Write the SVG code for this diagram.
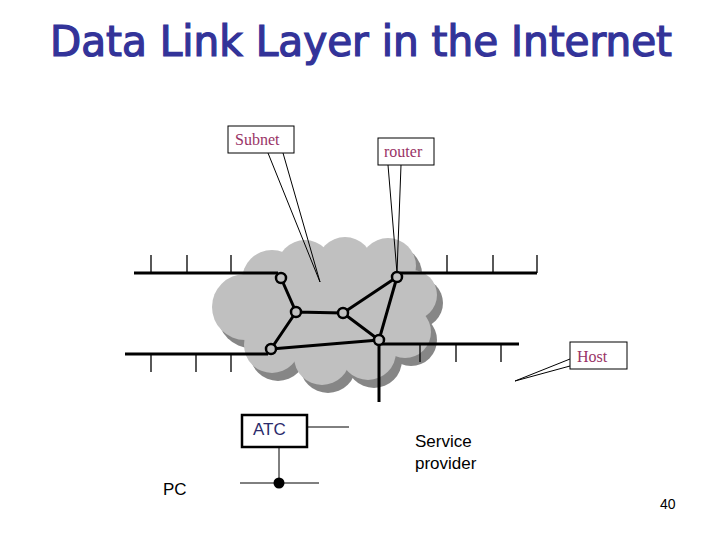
<svg xmlns="http://www.w3.org/2000/svg" width="720" height="540" viewBox="0 0 720 540">
<style>
.title{font-family:"DejaVu Sans Condensed","DejaVu Sans",sans-serif;font-stretch:condensed;font-size:42px;fill:#333399;stroke:#333399;stroke-width:1.2}
.call{font-family:"Liberation Serif",serif;font-size:16px;fill:#993366}
.lbl{font-family:"Liberation Sans",Arial,sans-serif;font-size:17px;fill:#000}
.box{fill:#fff;stroke:#000;stroke-width:1}
.thin{stroke:#000;stroke-width:1;fill:none}
.bus{stroke:#000;stroke-width:3;fill:none}
.tick{stroke:#000;stroke-width:1.3;fill:none}
.node{fill:#c0c0c0;stroke:#000;stroke-width:2.5}
</style>
<defs>
<g id="cloudShape">
<circle cx="245" cy="307" r="33"/>
<circle cx="272" cy="280" r="30"/>
<circle cx="305" cy="268" r="28"/>
<circle cx="345" cy="265" r="28"/>
<circle cx="388" cy="266" r="28"/>
<circle cx="412" cy="295" r="25"/>
<circle cx="405" cy="332" r="26"/>
<circle cx="368" cy="352" r="28"/>
<circle cx="322" cy="357" r="28"/>
<circle cx="272" cy="345" r="28"/>
<ellipse cx="330" cy="310" rx="80" ry="50"/>
</g>
</defs>
<rect width="720" height="540" fill="#fff"/>
<text class="title" x="50" y="56" textLength="622" lengthAdjust="spacingAndGlyphs">Data Link Layer in the Internet</text>

<g id="cloud">
<use href="#cloudShape" fill="#868686" transform="translate(6,8)"/>
<use href="#cloudShape" fill="#c0c0c0"/>
</g>

<g id="connectors">
<path class="bus" d="M134 273H278"/>
<path class="tick" d="M151 255V273M187 255V273M231 255V273"/>
<path class="bus" d="M400 273H537"/>
<path class="tick" d="M447 255V273M493 255V273M537 255V273"/>
<path class="bus" d="M125 354H268"/>
<path class="tick" d="M151 354V372M196 354V372M231 354V372"/>
<path class="bus" d="M382 344H519"/>
<path class="tick" d="M420 344V362M456 344V362M501 344V362"/>
<path class="bus" d="M379 344V402"/>
<path class="bus" d="M281 278L296 312L343 313L397 277M343 313L379 340L397 277M296 312L271 349L379 340"/>
<path class="thin" d="M307 427H349M279 447V483M240 483H319"/>
<circle cx="279" cy="483" r="5.5" fill="#000"/>
</g>

<g id="routers">
<circle class="node" cx="281" cy="278" r="5"/>
<circle class="node" cx="296" cy="312" r="5"/>
<circle class="node" cx="343" cy="313" r="5"/>
<circle class="node" cx="397" cy="277" r="5"/>
<circle class="node" cx="379" cy="340" r="5"/>
<circle class="node" cx="271" cy="349" r="5"/>
</g>

<g id="subnet">
<path class="thin" d="M268 153L320 282L283 153"/>
<rect class="box" x="228" y="126" width="66" height="27"/>
<text class="call" x="235" y="145">Subnet</text>
</g>

<g id="router">
<path class="thin" d="M388 165L397 273L401 165"/>
<rect class="box" x="378" y="138" width="56" height="27"/>
<text class="call" x="384" y="157">router</text>
</g>

<g id="host">
<path class="thin" d="M570 359L515 381L570 366"/>
<rect class="box" x="570" y="342" width="57" height="27"/>
<text class="call" x="577" y="362">Host</text>
</g>

<g id="atc">
<rect x="242" y="415" width="65" height="32" fill="#fff" stroke="#000" stroke-width="2.5"/>
<text class="lbl" x="253" y="435" style="fill:#2b2b6b">ATC</text>
</g>

<g id="pc"><text class="lbl" x="163" y="495">PC</text></g>
<g id="provider">
<text class="lbl" x="415" y="447">Service</text>
<text class="lbl" x="415" y="469">provider</text>
</g>
<text x="660" y="509" style="font-family:'Liberation Sans',Arial,sans-serif;font-size:14px;fill:#000">40</text>
</svg>
